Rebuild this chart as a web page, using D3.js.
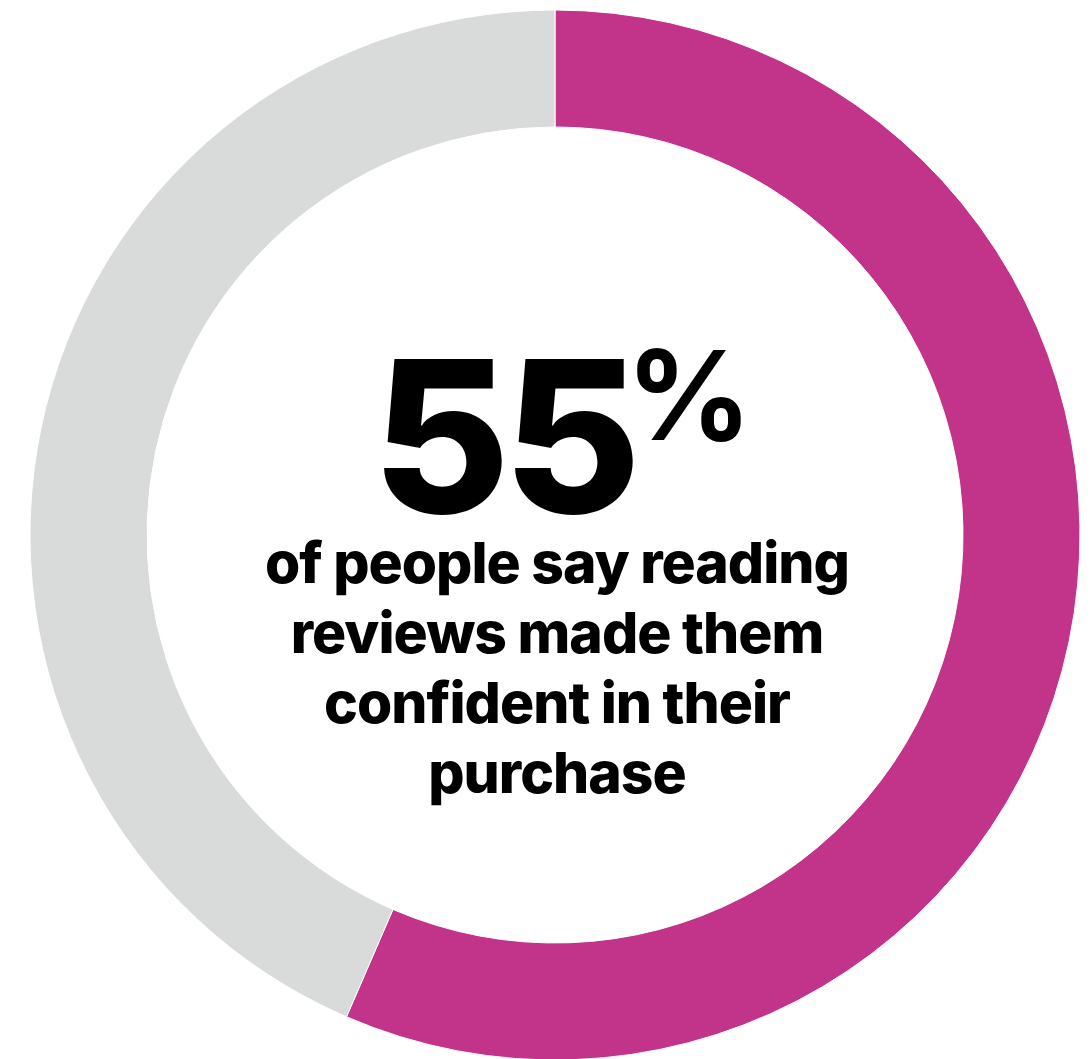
<!DOCTYPE html>
<html>
<head>
<meta charset="utf-8">
<script src="https://cdn.jsdelivr.net/npm/d3@7"></script>
<style>
  html, body { margin: 0; padding: 0; background: #fff; }
  svg { display: block; }
  .label { font-family: Inter, Lato, "Open Sans", sans-serif; font-weight: 800; fill: #000; }
</style>
</head>
<body>
<div id="chart"></div>
<script>

// data
var segments = ['agree', 'rest'];
var shares = [56.5, 43.5];
var colors = ['#c2338a', '#d9dbda'];
var headline = '55';
var headlineUnit = '%';
var caption = [
  'of people say reading',
  'reviews made them',
  'confident in their',
  'purchase'
];

var width = 1092;
var height = 1059;
var cx = 555;
var cy = 535;

var svg = d3.select('#chart').append('svg')
  .attr('width', width)
  .attr('height', height);

var g = svg.append('g')
  .attr('transform', 'translate(' + cx + ',' + cy + ')');

var pie = d3.pie()
  .sort(null)
  .value(function(d) { return d; });

var arc = d3.arc()
  .innerRadius(408)
  .outerRadius(525);

g.selectAll('.slice')
  .data(pie(shares))
  .enter().append('path')
  .attr('class', function(d, i) { return 'slice slice--' + segments[i]; })
  .attr('d', arc)
  .attr('fill', function(d, i) { return colors[i]; })
  .attr('stroke', '#fff')
  .attr('stroke-width', 1);

// squeeze a text to a given width with letter spacing
function fit(sel, target) {
  var n = sel.text().length;
  var w = sel.node().getComputedTextLength();
  sel.style('letter-spacing', ((target - w) / n) + 'px');
}

// big number
var big = g.append('text')
  .attr('class', 'label')
  .attr('x', 79)
  .attr('y', -22)
  .attr('text-anchor', 'end')
  .style('font-size', '212px')
  .text(headline);
fit(big, 262);

g.append('text')
  .attr('class', 'label')
  .attr('x', 71)
  .attr('y', -95)
  .style('font-size', '124px')
  .style('font-weight', 700)
  .text(headlineUnit);

// caption
var lines = g.selectAll('.caption')
  .data(caption)
  .enter().append('text')
  .attr('class', 'label caption')
  .attr('x', 2)
  .attr('y', function(d, i) { return 48 + i * 70; })
  .attr('text-anchor', 'middle')
  .style('font-size', '57px')
  .text(function(d) { return d; });

// one shared tracking, taken from the first line
var first = lines.filter(function(d, i) { return i === 0; });
var len = first.node().getComputedTextLength();
lines.style('letter-spacing', ((584 - len) / caption[0].length) + 'px');

</script>
</body>
</html>
